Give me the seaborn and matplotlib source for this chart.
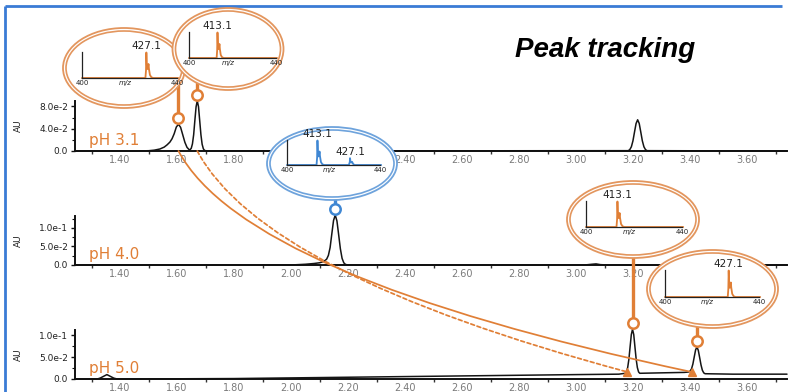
import numpy as np
import pandas as pd
import matplotlib
matplotlib.use("Agg")
import matplotlib.pyplot as plt
import seaborn as sns
from matplotlib.patches import Ellipse, ConnectionPatch
from matplotlib.ticker import MultipleLocator, FixedLocator

# ------------------------------------------------------------------ data
ph_labels = ["pH 3.1", "pH 4.0", "pH 5.0"]

rt_ph31 = [1.242, 1.450, 1.500, 1.520, 1.540, 1.555, 1.565, 1.575, 1.5825, 1.590,
           1.5975, 1.605, 1.6125, 1.620, 1.6275, 1.635, 1.6425, 1.6455, 1.6498, 1.654,
           1.6583, 1.6625, 1.6668, 1.671, 1.6753, 1.6795, 1.6838, 1.688, 1.6923, 1.6965,
           1.705, 3.183, 3.1885, 3.194, 3.1995, 3.205, 3.2105, 3.216, 3.2215, 3.227,
           3.2325, 3.238, 3.2435, 3.249, 3.740]
au_ph31 = [0.0, 0.0, 0.0005, 0.0015, 0.0036, 0.007, 0.011, 0.016, 0.022, 0.031,
           0.043, 0.048, 0.0424, 0.0291, 0.0156, 0.0065, 0.0024, 0.0022, 0.0048, 0.0127,
           0.0292, 0.0546, 0.0794, 0.090, 0.0794, 0.0546, 0.0292, 0.0122, 0.004, 0.001,
           0.0, 0.0006, 0.0025, 0.0076, 0.0182, 0.034, 0.0494, 0.056, 0.0494, 0.034,
           0.0182, 0.0076, 0.0025, 0.0006, 0.0]

rt_ph40 = [1.242, 2.000, 2.050, 2.080, 2.100, 2.113, 2.119, 2.125, 2.131, 2.137,
           2.143, 2.149, 2.155, 2.161, 2.167, 2.173, 2.179, 2.185, 2.191, 2.200,
           3.030, 3.055, 3.070, 3.085, 3.110, 3.740]
au_ph40 = [0.0, 0.0, 0.002, 0.004, 0.006, 0.009, 0.012, 0.016, 0.026, 0.047,
           0.084, 0.120, 0.135, 0.119, 0.082, 0.044, 0.018, 0.006, 0.0015, 0.0,
           0.0, 0.002, 0.003, 0.001, 0.0, 0.0]

rt_ph50 = [1.242, 1.320, 1.330, 1.342, 1.354, 1.366, 1.378, 1.390, 1.420, 1.800,
           2.200, 2.600, 3.000, 3.150, 3.1725, 3.1768, 3.181, 3.1853, 3.1895, 3.1938,
           3.198, 3.2023, 3.2065, 3.2108, 3.215, 3.2193, 3.2235, 3.300, 3.380, 3.3955,
           3.400, 3.405, 3.4098, 3.4145, 3.4193, 3.424, 3.4288, 3.4335, 3.4383, 3.443,
           3.4478, 3.4525, 3.550, 3.740]
au_ph50 = [0.0, 0.0, 0.002, 0.006, 0.010, 0.006, 0.002, 0.0, 0.0, 0.001,
           0.004, 0.007, 0.010, 0.011, 0.013, 0.016, 0.026, 0.045, 0.073, 0.101,
           0.113, 0.101, 0.073, 0.045, 0.026, 0.016, 0.013, 0.014, 0.015, 0.016,
           0.018, 0.023, 0.034, 0.050, 0.066, 0.073, 0.065, 0.049, 0.032, 0.020,
           0.014, 0.012, 0.011, 0.011]

x_ticks = [1.40, 1.60, 1.80, 2.00, 2.20, 2.40, 2.60, 2.80, 3.00, 3.20, 3.40, 3.60]
x_ticklabels = ["1.40", "1.60", "1.80", "2.00", "2.20", "2.40", "2.60", "2.80",
                "3.00", "3.20", "3.40", "3.60"]
y_ticks_ph31 = [0.0, 0.04, 0.08]
y_ticklabels_ph31 = ["0.0", "4.0e-2", "8.0e-2"]
y_ticks_ph40 = [0.0, 0.05, 0.10]
y_ticklabels_ph40 = ["0.0", "5.0e-2", "1.0e-1"]
y_ticks_ph50 = [0.0, 0.05, 0.10]
y_ticklabels_ph50 = ["0.0", "5.0e-2", "1.0e-1"]

# tracked peaks (panel index, retention time, absorbance at apex)
peak_panel = [0, 0, 1, 2, 2]
peak_rt = [1.605, 1.671, 2.155, 3.198, 3.424]
peak_au = [0.048, 0.090, 0.135, 0.113, 0.073]

# mass spectra shown in the call-outs
mz_413 = [400.0, 412.7, 412.95, 413.1, 413.3, 413.55, 413.8, 414.0, 414.2, 414.6, 415.2, 416.0, 440.5]
int_413 = [0.0, 0.0, 0.30, 1.0, 0.50, 0.35, 0.42, 0.55, 0.35, 0.12, 0.03, 0.0, 0.0]
mz_427 = [400.0, 426.7, 426.95, 427.1, 427.3, 427.55, 427.8, 428.0, 428.2, 428.6, 429.2, 430.0, 440.5]
int_427 = [0.0, 0.0, 0.30, 1.0, 0.50, 0.35, 0.42, 0.55, 0.35, 0.12, 0.03, 0.0, 0.0]
mz_mix = [400.0, 412.7, 412.95, 413.1, 413.3, 413.55, 413.8, 414.0, 414.2, 414.6, 415.2, 416.0,
          426.6, 427.0, 427.1, 427.3, 427.6, 428.0, 428.4, 429.0, 440.5]
int_mix = [0.0, 0.0, 0.30, 1.0, 0.50, 0.35, 0.42, 0.55, 0.35, 0.12, 0.03, 0.0,
           0.0, 0.12, 0.28, 0.15, 0.10, 0.13, 0.05, 0.0, 0.0]
spec_peak_mz = {"413": [413.1], "427": [427.1], "mix": [413.1, 427.1]}
spec_peak_int = {"413": [1.0], "427": [1.0], "mix": [1.0, 0.28]}
spec_peak_lab = {"413": ["413.1"], "427": ["427.1"], "mix": ["413.1", "427.1"]}
spectra = {"413": (mz_413, int_413), "427": (mz_427, int_427), "mix": (mz_mix, int_mix)}
callout_spec = ["427", "413", "mix", "413", "427"]

# tracking lines: start at peak base (pH 3.1), end at marker (pH 5.0)
track_start_rt = [1.605, 1.671]
track_end_rt = [3.405, 3.180]
track_end_au = [0.016, 0.016]

title = "Peak tracking"

# ------------------------------------------------------------------ style
sns.set_theme(style="white")
plt.rcParams["font.family"] = ["DejaVu Sans"]

ORANGE = "#e07f36"
ORANGE_RING = "#e3965e"
BLUE = "#3f87d3"
BLUE_RING = "#6ea3dc"
BORDER = "#3a7bd5"

W, H = 792, 392
fig = plt.figure(figsize=(W / 100, H / 100), dpi=100)
fig.patch.set_facecolor("white")


def fbox(l, t, w, h):
    return [l / W, 1 - (t + h) / H, w / W, h / H]


traces = [(rt_ph31, au_ph31), (rt_ph40, au_ph40), (rt_ph50, au_ph50)]
yt = [y_ticks_ph31, y_ticks_ph40, y_ticks_ph50]
ytl = [y_ticklabels_ph31, y_ticklabels_ph40, y_ticklabels_ph50]
panel_px = [(75, 101, 712, 50), (75, 216, 712, 49), (75, 330, 712, 49)]
ytops = [0.0897, 0.1324, 0.1114]
ph_y = [140.5, 255, 368]

axes = []
for i, ((rt, au), box) in enumerate(zip(traces, panel_px)):
    ax = fig.add_axes(fbox(*box))
    ax.set_facecolor("none")
    sns.lineplot(x=rt, y=au, ax=ax, color="#151515", linewidth=1.1,
                 estimator=None, sort=False)
    for ln in ax.lines:
        ln.set_clip_on(False)
    ax.set_xlim(1.242, 3.74)
    ax.set_ylim(0, ytops[i])
    for s in ("top", "right"):
        ax.spines[s].set_visible(False)
    for s in ("left", "bottom"):
        ax.spines[s].set_color("#111111")
        ax.spines[s].set_linewidth(1.4)
    ax.set_xticks(x_ticks)
    ax.set_xticklabels(x_ticklabels)
    ax.xaxis.set_minor_locator(MultipleLocator(0.1))
    ax.tick_params(axis="x", which="major", bottom=True, length=0, pad=3,
                   labelsize=7, labelcolor="#7a7a7a")
    ax.tick_params(axis="x", which="minor", bottom=True, length=2.5, width=1.0,
                   color="#333333", direction="out")
    ax.set_yticks(yt[i])
    ax.set_yticklabels(ytl[i])
    step = yt[i][1] - yt[i][0]
    ax.yaxis.set_minor_locator(FixedLocator([step / 2 + k * step for k in range(3)]))
    ax.tick_params(axis="y", which="major", left=True, length=3, width=1.0,
                   color="#111111", pad=2, labelsize=6.5, labelcolor="#222222")
    ax.tick_params(axis="y", which="minor", left=True, length=2, width=0.8,
                   color="#111111")
    ax.set_xlabel("")
    ax.set_ylabel("AU", fontsize=6.5, color="#222222")
    ax.yaxis.set_label_coords((23 - 75) / 712, 0.5)
    ax.grid(False)
    axes.append(ax)
    fig.text(89 / W, 1 - ph_y[i] / H, ph_labels[i], color=ORANGE, fontsize=11,
             ha="left", va="center")

# overlay in pixel coordinates for call-outs
ov = fig.add_axes([0, 0, 1, 1], zorder=2)
ov.set_xlim(0, W)
ov.set_ylim(H, 0)
ov.axis("off")

ov.plot([5, 782], [6, 6], color=BORDER, lw=2, solid_capstyle="butt")
ov.plot([5, 5], [6, H], color=BORDER, lw=2, solid_capstyle="butt")


def px_of(ax, x, y):
    d = ax.transData.transform((x, y))
    return ov.transData.inverted().transform(d)


# call-out layout (pixels): ellipse centre, ellipse size, spectrum box
callout_center = [(124, 68), (228, 49), (332, 163.5), (633, 219.5), (712.5, 289)]
callout_size = [(122, 80), (111, 82), (130, 73), (132, 77), (131, 78)]
callout_box = [(82, 52, 177, 78), (189, 32, 276, 58), (287, 140, 380, 165),
               (586, 201, 682, 227), (665, 270, 759, 297)]
callout_blue = [False, False, True, False, False]

for k in range(5):
    pax = axes[peak_panel[k]]
    px, py = px_of(pax, peak_rt[k], peak_au[k])
    cyc = py - 6
    col = BLUE if callout_blue[k] else ORANGE
    ring = BLUE_RING if callout_blue[k] else ORANGE_RING
    ecx, ecy = callout_center[k]
    ew, eh = callout_size[k]
    ov.plot([px, px], [cyc, ecy], color=col, lw=2.4, solid_capstyle="butt", zorder=1)
    ov.add_patch(Ellipse((ecx, ecy), ew, eh, fc="white", ec=ring, lw=1.3, zorder=2 + 0.1 * k))
    ov.add_patch(Ellipse((ecx, ecy), ew - 6, eh - 6, fc="none", ec=ring, lw=1.2, zorder=2 + 0.1 * k))
    ov.plot([px], [cyc], marker="o", ms=7.5, mfc="white", mec=col, mew=1.8, zorder=5)

    sl, st, sr, sb = callout_box[k]
    sax = fig.add_axes(fbox(sl, st, sr - sl, sb - st), zorder=3 + 0.1 * k)
    sax.set_facecolor("none")
    key = callout_spec[k]
    mz, inten = spectra[key]
    sns.lineplot(x=mz, y=inten, ax=sax, color=col, linewidth=1.3,
                 estimator=None, sort=False)
    for ln in sax.lines:
        ln.set_clip_on(False)
    sax.set_xlim(400, 440)
    sax.set_ylim(0, 1.02)
    for s in ("top", "right"):
        sax.spines[s].set_visible(False)
    for s in ("left", "bottom"):
        sax.spines[s].set_color("#222222")
        sax.spines[s].set_linewidth(0.9)
    sax.set_xticks([])
    sax.set_yticks([])
    sax.set_xlabel("")
    sax.set_ylabel("")
    tr = sax.get_xaxis_transform()
    sax.text(400, -0.08, "400", transform=tr, ha="center", va="top", fontsize=5, color="#222222")
    sax.text(418, -0.08, "m/z", transform=tr, ha="center", va="top", fontsize=5,
             style="italic", color="#222222")
    sax.text(440, -0.08, "440", transform=tr, ha="center", va="top", fontsize=5, color="#222222")
    for m, iv, lab in zip(spec_peak_mz[key], spec_peak_int[key], spec_peak_lab[key]):
        sax.annotate(lab, (m, iv), xytext=(0, 1), textcoords="offset points",
                     ha="center", va="bottom", fontsize=7.5, color="#222222")

# tracking lines
styles = ["-", (0, (2.2, 1.6))]
arcs = ["angle3,angleA=-62,angleB=-12", "angle3,angleA=-62,angleB=-15"]
for j in range(2):
    cp = ConnectionPatch(xyA=(track_start_rt[j], 0.0), coordsA=axes[0].transData,
                         xyB=(track_end_rt[j], track_end_au[j]), coordsB=axes[2].transData,
                         connectionstyle=arcs[j], arrowstyle="-", color=ORANGE,
                         lw=1.25, linestyle=styles[j], zorder=1.5)
    fig.add_artist(cp)
    tx, ty = px_of(axes[2], track_end_rt[j], track_end_au[j])
    ov.plot([tx], [ty], marker="^", ms=6, color=ORANGE, mec=ORANGE, zorder=6)

fig.text(605 / W, 1 - 50 / H, title, fontsize=20, fontweight="bold", fontstyle="italic",
         family=["Liberation Sans", "DejaVu Sans"], ha="center", va="center", color="black")

fig.savefig("out.png", dpi=100, facecolor="white")
